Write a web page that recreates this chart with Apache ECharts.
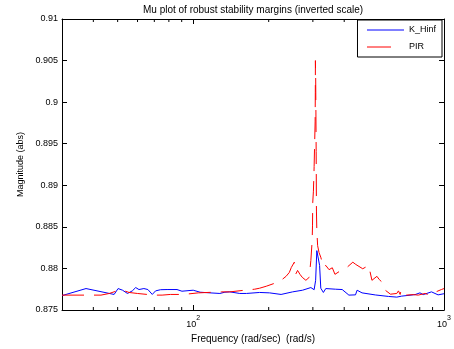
<!DOCTYPE html>
<html>
<head>
<meta charset="utf-8">
<script src="https://cdn.jsdelivr.net/npm/echarts@6/dist/echarts.min.js"></script>
<style>
  html, body { margin: 0; padding: 0; background: #fff; }
  #chart { width: 454px; height: 349px; }
</style>
</head>
<body>
<div id="chart"></div>
<script>
// K_Hinf curve (rad/s, abs)
const hinfFreq = [30, 37.4, 48.4, 50.2, 52.3, 54.7, 57.2, 59.0, 60.8, 63.6, 66.0, 68.7, 70.8, 74.1, 78.7, 86.2, 90.2, 100,
  106.6, 116.7, 127.8, 133.8, 140.0, 153.4, 163.0, 184.0, 201.5, 224.1, 249.1, 272.9, 294.5, 303.5, 307.7, 311.1, 314.8,
  319.1, 322.6, 330.4, 337.7, 369.8, 392.7, 398.8, 417.5, 443.6, 450.2, 471.1, 532.2, 600.7, 648.0, 678.1, 766.0, 801.7,
  826.0, 891.1, 946.9, 1000];
const hinfMag = [0.87673, 0.87758, 0.87687, 0.87758, 0.87738, 0.87699, 0.87730, 0.87770, 0.87746, 0.87758, 0.87746,
  0.87687, 0.87730, 0.87744, 0.87746, 0.87746, 0.87726, 0.87738, 0.87714, 0.87706, 0.87699, 0.87714, 0.87718, 0.87699,
  0.87699, 0.87711, 0.87706, 0.87687, 0.87718, 0.87738, 0.87770, 0.87744, 0.87857, 0.88214, 0.88226, 0.88036, 0.87762,
  0.87711, 0.87758, 0.87750, 0.87746, 0.87730, 0.87679, 0.87682, 0.87738, 0.87706, 0.87681, 0.87663, 0.87655, 0.87667,
  0.87685, 0.87706, 0.87685, 0.87718, 0.87682, 0.87696];

// PIR curve
const pirFreq = [30, 37.4, 42.9, 46.3, 49.2, 52.3, 55.5, 59.9, 65.6, 70.8, 75.2, 81.1, 91.5, 104.9, 116.7, 129.8, 140.0,
  160.5, 175.8, 184.0, 195.6, 211.0, 224.1, 234.6, 241.7, 246.2, 253.0, 257.0, 260.7, 266.5, 272.1, 281.4, 290.0, 294.5,
  298.0, 299.0, 299.6, 301.5, 303.5, 305.0, 306.3, 306.8, 307.1, 307.8, 308.5, 309.2, 310.0, 311.1, 313.4, 317.5, 322.6,
  330.4, 337.7, 348.0, 358.6, 367.4, 374.2, 388.1, 411.0, 432.9, 444.8, 474.1, 500.6, 508.4, 515.9, 540.0, 552.0, 565.2,
  582.9, 611.7, 648.0, 658.0, 668.3, 674.4, 688.6, 709.6, 754.1, 789.3, 838.9, 878.1, 921.3, 975.7, 1000];
const pirMag = [0.87679, 0.87679, 0.87679, 0.87699, 0.87726, 0.87738, 0.87711, 0.87699, 0.87687, 0.87679, 0.87679,
  0.87687, 0.87687, 0.87706, 0.87712, 0.87718, 0.87718, 0.87738, 0.87750, 0.87762, 0.87786, 0.87821, 0.87857, 0.87905,
  0.87952, 0.88012, 0.88075, 0.87937, 0.87976, 0.87929, 0.87893, 0.87857, 0.87893, 0.88095, 0.88333, 0.88512, 0.88789,
  0.88929, 0.89226, 0.89524, 0.89762, 0.90119, 0.90500, 0.90298, 0.89881, 0.89405, 0.88690, 0.88452, 0.88274, 0.88190,
  0.88135, 0.88015, 0.88036, 0.87985, 0.88008, 0.87929, 0.87952, 0.87976, 0.88015, 0.88075, 0.88048, 0.87996, 0.88036,
  0.88056, 0.87857, 0.87905, 0.87866, 0.87837, 0.87738, 0.87690, 0.87699, 0.87730, 0.87687, 0.87738, 0.87679, 0.87679,
  0.87685, 0.87679, 0.87699, 0.87679, 0.87714, 0.87746, 0.87758];

const minorTicks = [40, 50, 60, 70, 80, 90, 200, 300, 400, 500, 600, 700, 800, 900];
const yMin = 0.875, yMax = 0.91, yStep = 0.005;
const xMin = 30, xMax = 1000;

const font = 'Liberation Sans, Arial, sans-serif';
const chart = echarts.init(document.getElementById('chart'));

const zip = (xs, ys) => xs.map((x, i) => [x, ys[i]]);

const powLabel = (v) => {
  const l = Math.log10(v);
  const e = Math.round(l);
  if (Math.abs(l - e) > 1e-6) return '';
  return '{b|10}{s|' + e + '}';
};

const baseX = {
  type: 'log',
  logBase: 10,
  min: xMin,
  max: xMax,
  splitLine: { show: false },
  axisLine: { show: true, lineStyle: { color: '#000', width: 1 } },
  axisTick: { show: true, inside: true, length: 5, lineStyle: { color: '#000' } },
};
const baseY = {
  type: 'value',
  min: yMin,
  max: yMax,
  interval: yStep,
  splitLine: { show: false },
  axisLine: { show: true, lineStyle: { color: '#000', width: 1 } },
  axisTick: { show: true, inside: true, length: 5, lineStyle: { color: '#000' } },
};

chart.setOption({
  animation: false,
  backgroundColor: '#fff',
  grid: { left: 62, right: 8, top: 16, bottom: 39 },
  legend: {
    data: [
      { name: 'K_Hinf' },
      { name: 'PIR', lineStyle: { type: [24, 14] } },
    ],
    orient: 'vertical',
    right: 12,
    top: 20,
    padding: [4, 6, 4, 9],
    itemGap: 5,
    itemWidth: 37,
    itemHeight: 10,
    borderColor: '#000',
    borderWidth: 1,
    backgroundColor: '#fff',
    lineStyle: { width: 1 },
    itemStyle: { color: 'transparent', borderWidth: 0, opacity: 0 },
    textStyle: { fontFamily: font, fontSize: 9, color: '#000', lineHeight: 12 },
  },
  xAxis: [
    Object.assign({}, baseX, {
      position: 'bottom',
      name: 'Frequency (rad/sec)  (rad/s)',
      nameLocation: 'middle',
      nameGap: 23,
      nameTextStyle: { fontFamily: font, fontSize: 10, color: '#000' },
      axisLabel: {
        margin: 5,
        showMinLabel: true,
        showMaxLabel: true,
        formatter: powLabel,
        rich: {
          b: { fontFamily: font, fontSize: 9, color: '#000', verticalAlign: 'bottom', lineHeight: 14 },
          s: { fontFamily: font, fontSize: 7, color: '#000', verticalAlign: 'top', lineHeight: 14 },
        },
      },
    }),
    Object.assign({}, baseX, {
      position: 'top',
      name: 'Mu plot of robust stability margins (inverted scale)',
      nameLocation: 'middle',
      nameGap: 4,
      nameTextStyle: { fontFamily: font, fontSize: 10, color: '#000' },
      axisLabel: { show: false },
    }),
  ],
  yAxis: [
    Object.assign({}, baseY, {
      position: 'left',
      name: 'Magnitude (abs)',
      nameLocation: 'middle',
      nameGap: 35,
      nameTextStyle: { fontFamily: font, fontSize: 9, color: '#000' },
      axisLabel: {
        margin: 4,
        fontFamily: font,
        fontSize: 9,
        color: '#000',
        formatter: (v) => String(parseFloat(v.toFixed(3))),
      },
    }),
    Object.assign({}, baseY, { position: 'right', axisLabel: { show: false } }),
  ],
  series: [
    {
      name: 'K_Hinf',
      type: 'line',
      data: zip(hinfFreq, hinfMag),
      symbol: 'none',
      lineStyle: { color: '#0000ff', width: 1 },
      itemStyle: { color: '#0000ff' },
    },
    {
      name: 'PIR',
      type: 'line',
      data: zip(pirFreq, pirMag),
      symbol: 'none',
      lineStyle: { color: '#ff0000', width: 1, type: [22, 10] },
      itemStyle: { color: '#ff0000' },
    },
    {
      // minor log ticks on bottom and top edges
      type: 'custom',
      silent: true,
      clip: false,
      data: minorTicks.map((f) => [f, yMin]),
      renderItem: (params, api) => {
        const f = api.value(0);
        const b = api.coord([f, yMin]);
        const t = api.coord([f, yMax]);
        return {
          type: 'group',
          children: [
            { type: 'line', shape: { x1: b[0], y1: b[1], x2: b[0], y2: b[1] - 3 }, style: { stroke: '#000', lineWidth: 1 } },
            { type: 'line', shape: { x1: t[0], y1: t[1], x2: t[0], y2: t[1] + 3 }, style: { stroke: '#000', lineWidth: 1 } },
          ],
        };
      },
    },
  ],
});
</script>
</body>
</html>
